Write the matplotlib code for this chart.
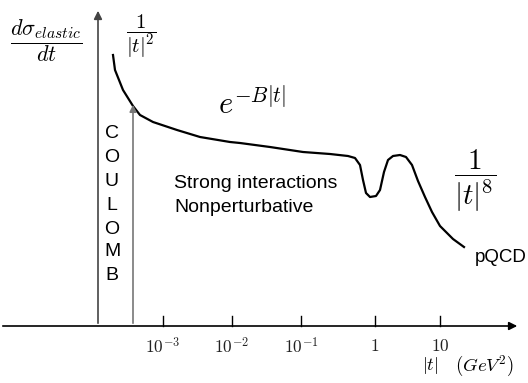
import matplotlib.pyplot as plt

plt.rcParams['mathtext.fontset'] = 'cm'
plt.rcParams['font.family'] = ['Liberation Sans', 'DejaVu Sans']

# schematic curve (x: position along |t| axis, y: height above baseline)
curve_x = [113, 115, 119, 123, 128, 133, 140, 153, 177, 200, 230, 240, 270, 303, 330, 348,
           355, 360, 363, 366, 370, 376, 380, 384, 388, 393, 400, 406, 412, 418, 425, 432,
           440, 453, 464]
curve_y = [55, 70, 80, 90, 98, 106, 115, 122, 130, 137, 142, 143, 147, 152, 154, 156,
           158, 165, 180, 193, 197, 196, 190, 172, 160, 156, 155, 157, 165, 181, 197, 212,
           226, 239, 247]

# tick positions and labels along the |t| axis
tick_pos = [163, 232, 301, 375, 440]
tick_labels = [r'$10^{-3}$', r'$10^{-2}$', r'$10^{-1}$', r'$1$', r'$10$']

coulomb = list('COULOMB')
coulomb_y = [133, 157, 182, 206, 229, 252, 275]

W, H = 528, 383
base = 326
fig = plt.figure(figsize=(W / 100, H / 100), dpi=100)
ax = fig.add_axes([0, 0, 1, 1])
ax.set_xlim(0, W)
ax.set_ylim(H, 0)
ax.axis('off')

# axes
ax.annotate('', xy=(520, base), xytext=(0, base),
            arrowprops=dict(arrowstyle='-|>', color='black', lw=1.2, mutation_scale=12))
ax.annotate('', xy=(98, 8), xytext=(98, base),
            arrowprops=dict(arrowstyle='-|>', color='#444444', lw=1.2, mutation_scale=12))
ax.annotate('', xy=(133, 102), xytext=(133, base),
            arrowprops=dict(arrowstyle='-|>', color='#777777', lw=1.2, mutation_scale=10))

for xp, lab in zip(tick_pos, tick_labels):
    ax.plot([xp, xp], [base - 10, base], color='black', lw=1)
    ax.text(xp, 346, lab, ha='center', va='center', fontsize=12.5, color='#222222')

ax.text(430, 366, r'$|t|$', ha='center', va='center', fontsize=13)
ax.text(484, 366, r'$(GeV^2)$', ha='center', va='center', fontsize=13.5)

# curve
ax.plot(curve_x, curve_y, color='black', lw=1.6)

# labels
ax.text(46, 41, r'$\dfrac{d\sigma_{elastic}}{dt}$', ha='center', va='center', fontsize=16)
ax.text(141, 36, r'$\dfrac{1}{|t|^2}$', ha='center', va='center', fontsize=15)
ax.text(252, 104, r'$e^{-B|t|}$', ha='center', va='center', fontsize=22)
ax.text(475, 181, r'$\dfrac{1}{|t|^8}$', ha='center', va='center', fontsize=21)
ax.text(475, 258, 'pQCD', ha='left', va='center', fontsize=13.5)
ax.text(174, 183, 'Strong interactions', ha='left', va='center', fontsize=14)
ax.text(174, 207, 'Nonperturbative', ha='left', va='center', fontsize=14)

for ch, yp in zip(coulomb, coulomb_y):
    ax.text(112, yp, ch, ha='center', va='center', fontsize=14)

fig.savefig('out.png', dpi=100)
